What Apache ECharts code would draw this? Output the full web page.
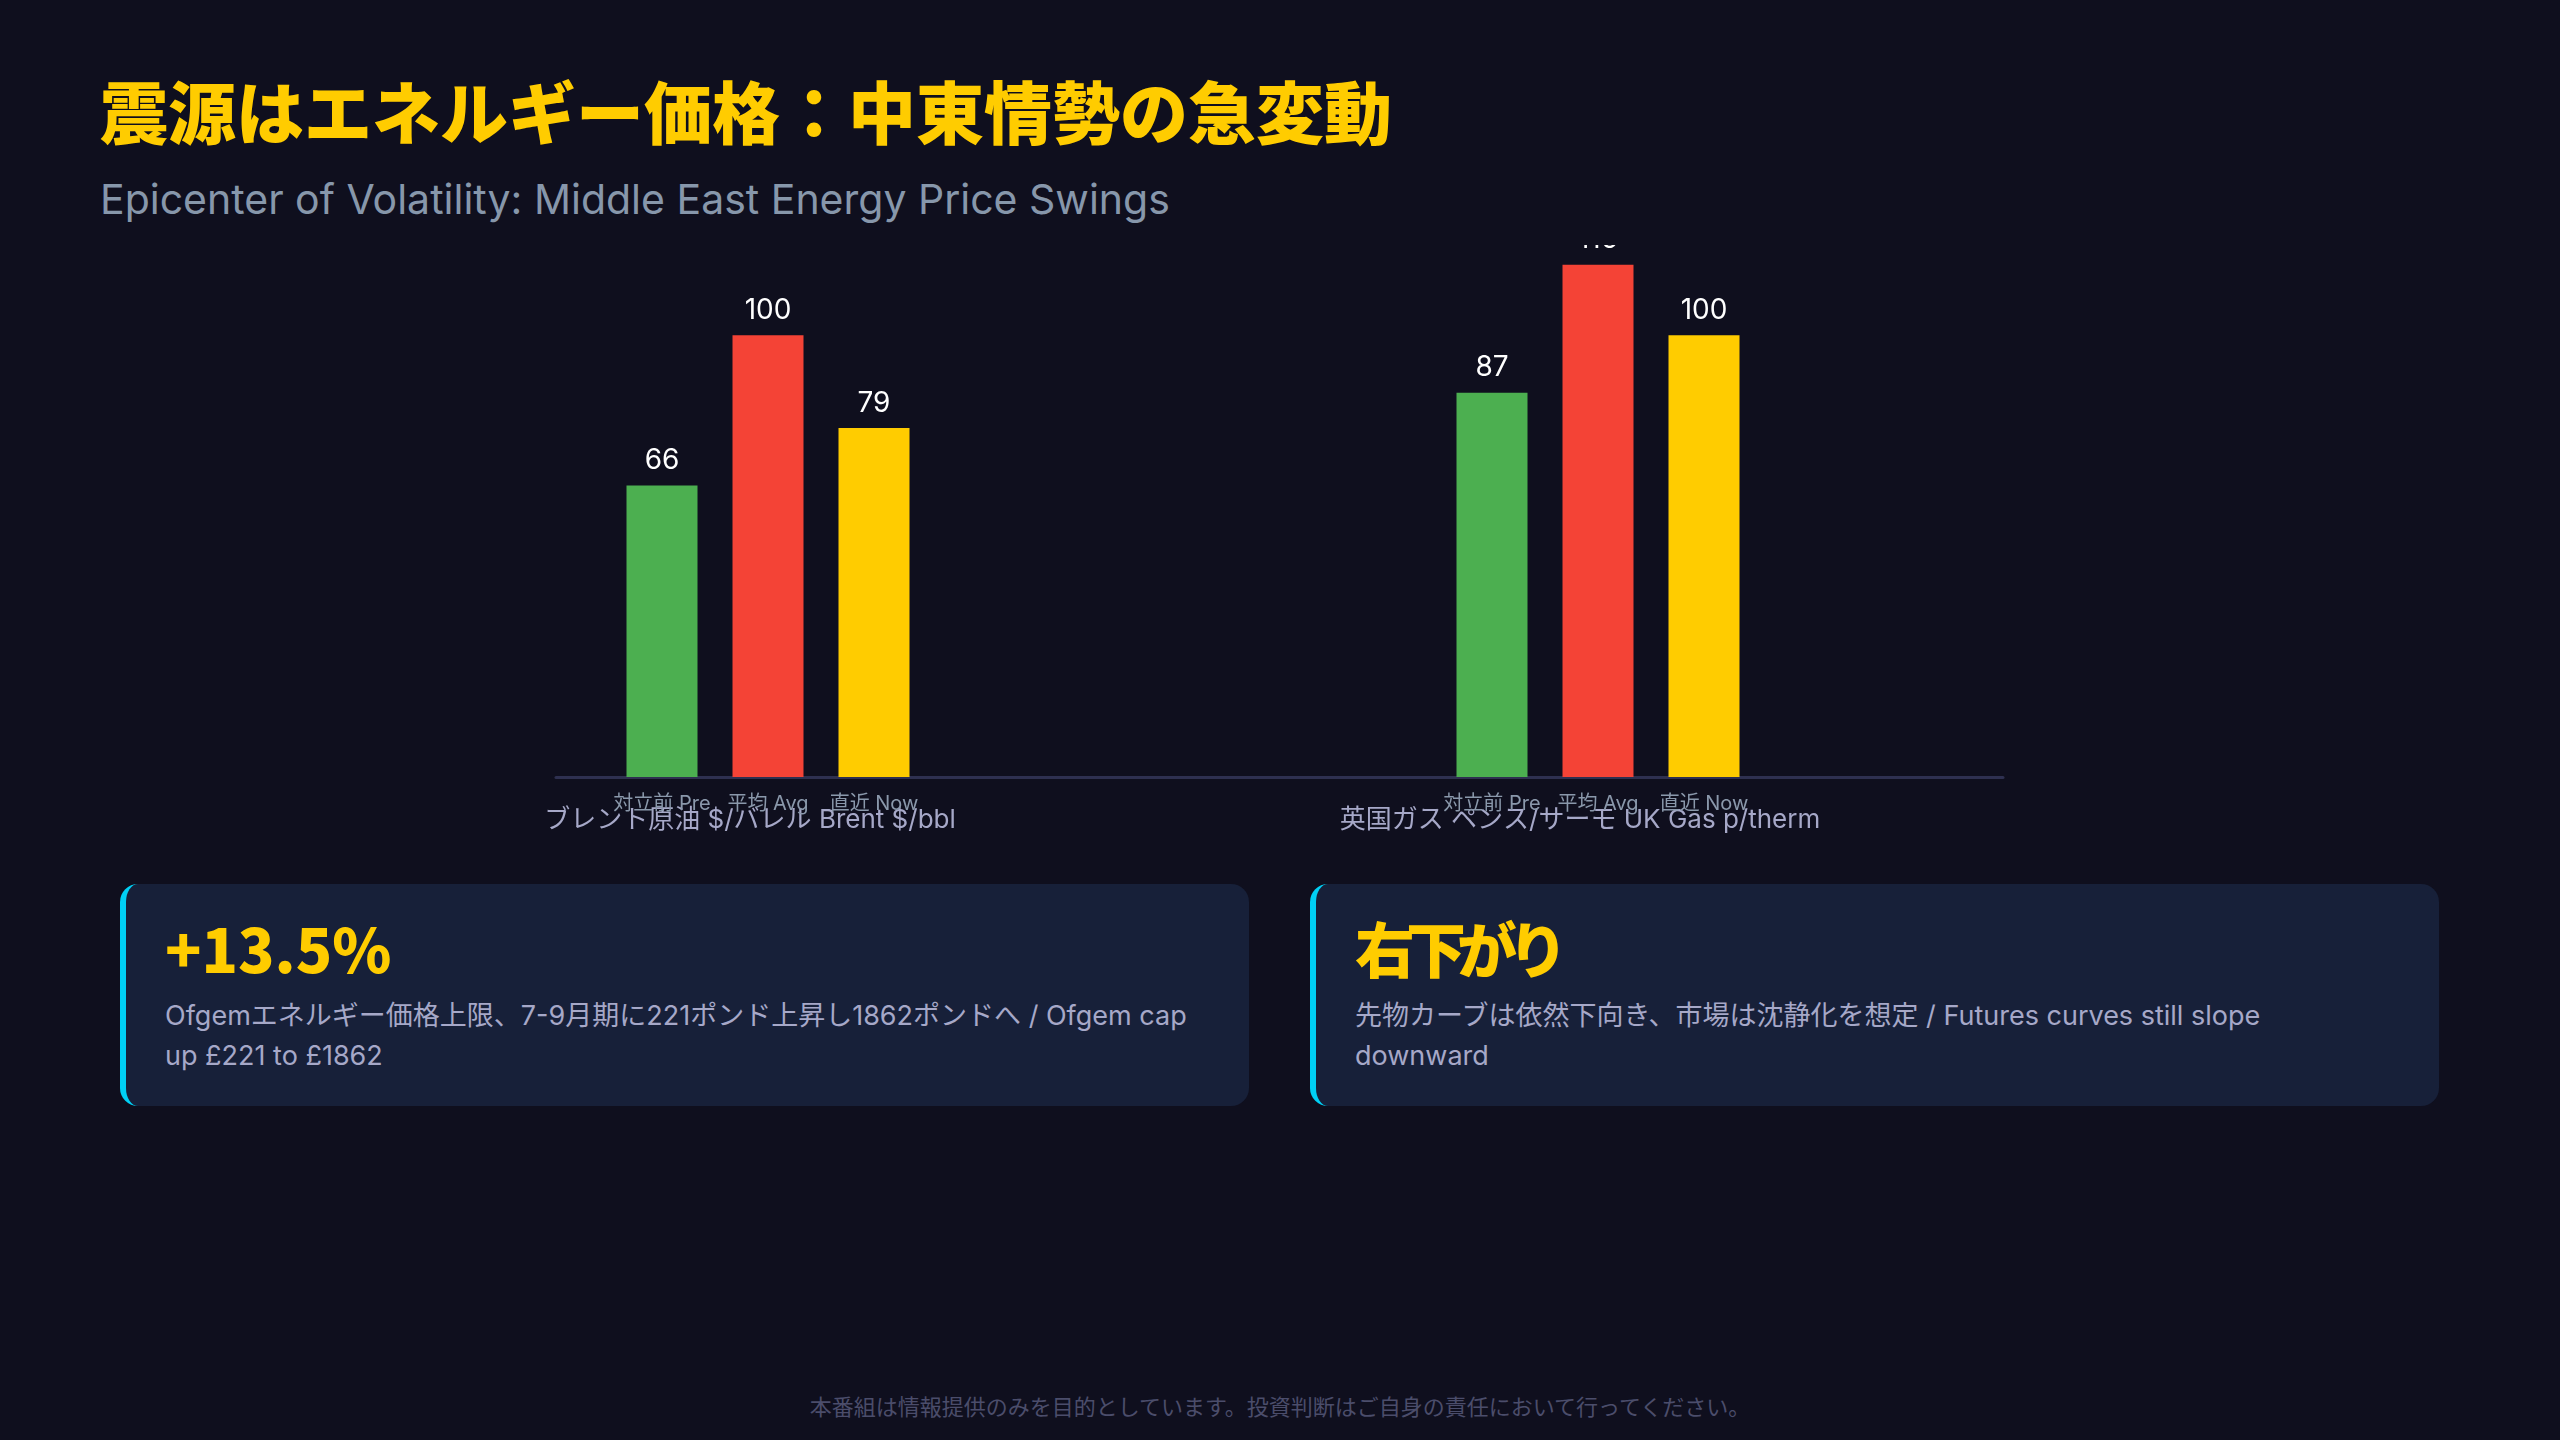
<!DOCTYPE html>
<html lang="ja">
<head>
<meta charset="utf-8">
<script src="https://cdn.jsdelivr.net/npm/echarts@6/dist/echarts.min.js"></script>
<style>
  html, body { margin: 0; padding: 0; }
  body { width: 2560px; height: 1440px; background: #0f0f1e; position: relative; overflow: hidden;
         font-family: Inter, 'Noto Sans CJK JP', sans-serif; }
  #title { position: absolute; left: 100px; top: 76px; font-size: 68px; line-height: 68px; font-weight: 900;
           font-family: 'Noto Sans CJK JP', sans-serif; color: #ffcc00; white-space: nowrap; }
  #subtitle { position: absolute; left: 100px; top: 178px; font-size: 41px; line-height: 42px; font-weight: 400;
              color: #8797ab; white-space: nowrap; }
  #chart { position: absolute; left: 0; top: 245px; width: 2560px; height: 620px; }
  .card { position: absolute; top: 884px; width: 1129px; height: 222px; box-sizing: border-box;
          background: #172039; border-left: 6px solid #00d0f5; border-radius: 18px;
          padding: 33px 30px 0 39px; }
  .card .head { font-size: 60px; line-height: 60px; font-weight: 900; color: #ffcc00; white-space: nowrap;
                font-family: 'Noto Sans CJK JP', sans-serif; }
  .card .body { margin-top: 19px; font-size: 27px; line-height: 40px; color: #a6a8c8; white-space: nowrap; }
  #footer { position: absolute; left: 0; width: 2560px; top: 1394px; text-align: center; font-size: 22px;
            line-height: 22px; color: #4b4d6b; white-space: nowrap; font-family: 'Noto Sans CJK JP', sans-serif; }
</style>
</head>
<body>
<div id="title">震源はエネルギー価格：中東情勢の急変動</div>
<div id="subtitle">Epicenter of Volatility: Middle East Energy Price Swings</div>
<div id="chart"></div>
<div class="card" style="left:120px;">
  <div class="head">+13.5%</div>
  <div class="body">Ofgemエネルギー価格上限、7-9月期に221ポンド上昇し1862ポンドへ / Ofgem cap<br>up £221 to £1862</div>
</div>
<div class="card" style="left:1310px;">
  <div class="head" style="letter-spacing:-9px;">右下がり</div>
  <div class="body">先物カーブは依然下向き、市場は沈静化を想定 / Futures curves still slope<br>downward</div>
</div>
<div id="footer">本番組は情報提供のみを目的としています。投資判断はご自身の責任において行ってください。</div>

<script>
// ---- data ----
const periods = ['対立前 Pre', '平均 Avg', '直近 Now'];
const groups = ['ブレント原油 $/バレル Brent $/bbl', '英国ガス ペンス/サーモ UK Gas p/therm'];
const brentValues = [66, 100, 79];
const ukGasValues = [87, 116, 100];
const periodColors = ['#4caf50', '#f44336', '#ffcc00'];

const FONT = "Inter, 'Noto Sans CJK JP', sans-serif";
const chart = echarts.init(document.getElementById('chart'), null, { renderer: 'canvas' });

function groupAxis(idx, name) {
  return {
    type: 'category', gridIndex: idx, data: periods,
    axisLine: { show: false }, axisTick: { show: false },
    axisLabel: { color: '#8a98ab', fontSize: 20, margin: 17, interval: 0, fontFamily: FONT },
    name: name, nameLocation: 'middle', nameGap: 30, nameMoveOverlap: false,
    nameTextStyle: { color: '#a6a8c8', fontSize: 26, fontFamily: FONT, padding: [0, 36, 0, 0] }
  };
}
function barSeries(idx, values) {
  return {
    type: 'bar', xAxisIndex: idx, yAxisIndex: idx, barWidth: 71, z: 5,
    data: values.map((v, i) => ({ value: v, itemStyle: { color: periodColors[i] } })),
    label: { show: true, position: 'top', distance: 11, color: '#ffffff', fontSize: 28, fontFamily: FONT }
  };
}
const yAx = i => ({ type: 'value', gridIndex: i, min: 0, max: 120, show: false });

chart.setOption({
  backgroundColor: 'transparent',
  animation: false,
  textStyle: { fontFamily: FONT },
  grid: [
    { left: 609, top: 2, width: 318, height: 530 },
    { left: 1439, top: 2, width: 318, height: 530 },
    { left: 556, top: 2, width: 1447, height: 530 }
  ],
  xAxis: [
    groupAxis(0, groups[0]),
    groupAxis(1, groups[1]),
    { type: 'category', gridIndex: 2, data: [''], axisTick: { show: false }, axisLabel: { show: false },
      axisLine: { show: true, lineStyle: { color: '#2e3050', width: 3 } } }
  ],
  yAxis: [yAx(0), yAx(1), yAx(2)],
  series: [barSeries(0, brentValues), barSeries(1, ukGasValues)]
});
</script>
</body>
</html>
